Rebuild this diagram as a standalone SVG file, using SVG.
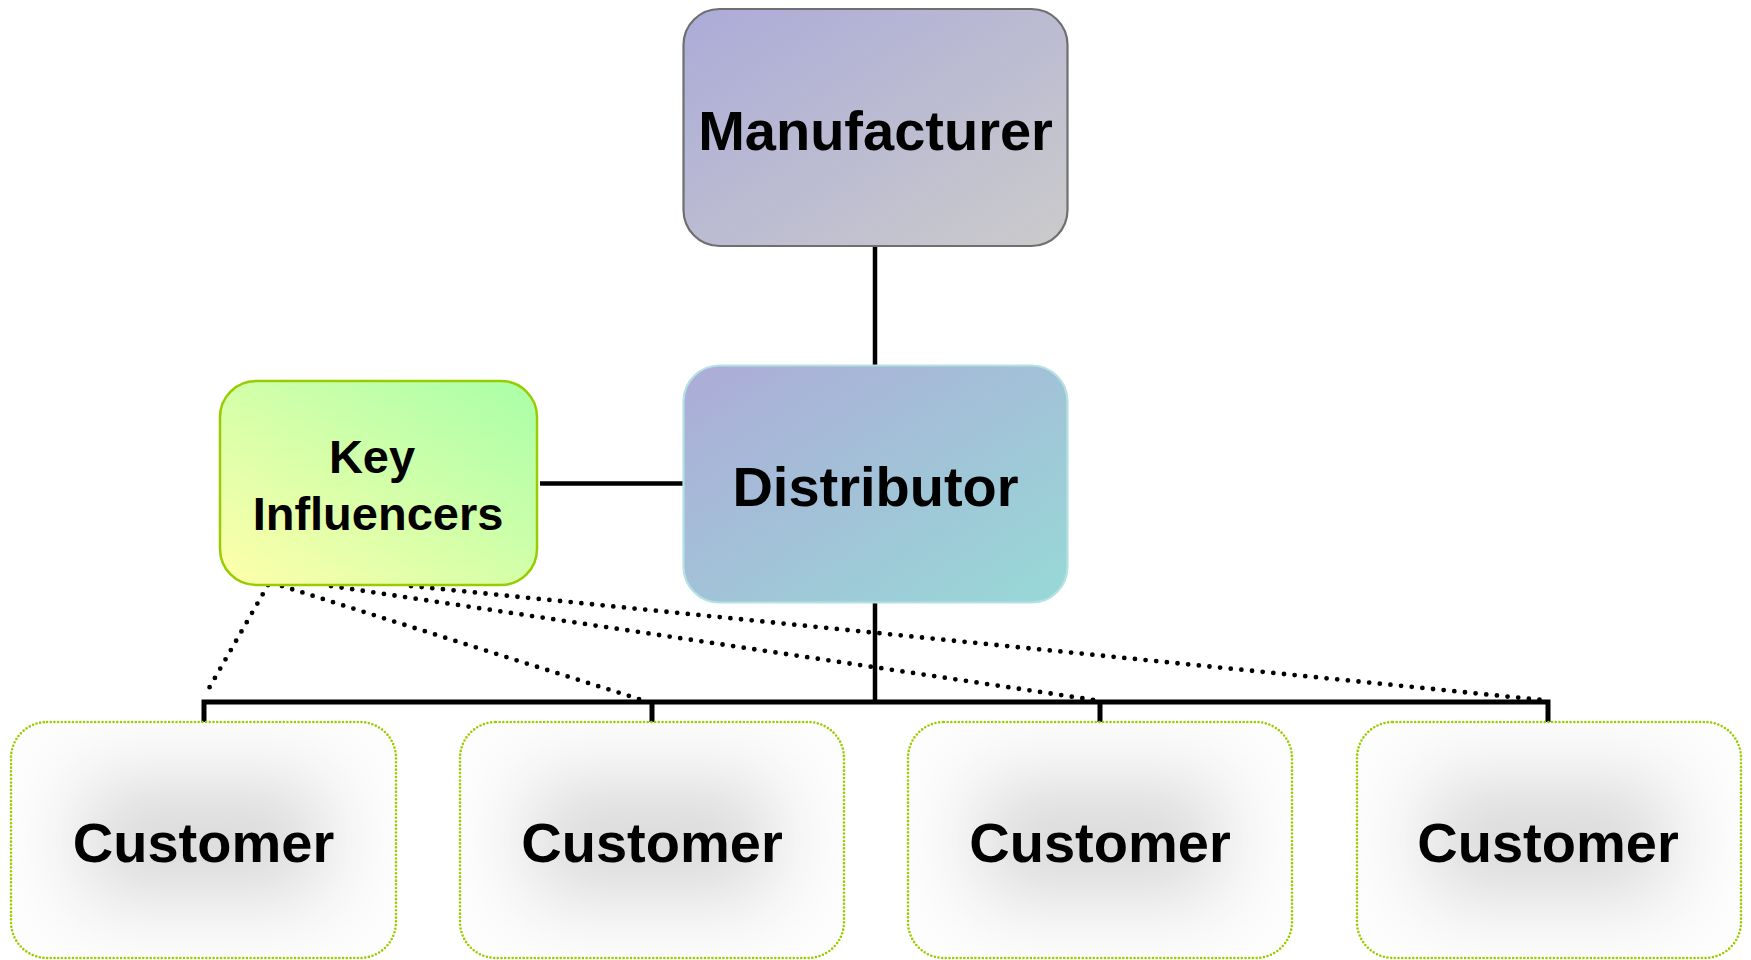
<svg xmlns="http://www.w3.org/2000/svg" width="1751" height="960" viewBox="0 0 1751 960">
<defs>
<linearGradient id="gMan" x1="0" y1="0" x2="1" y2="1">
<stop offset="0" stop-color="#ABABD9"/>
<stop offset="1" stop-color="#CBCBCB"/>
</linearGradient>
<linearGradient id="gDis" x1="0" y1="0" x2="1" y2="1">
<stop offset="0" stop-color="#ADABD8"/>
<stop offset="1" stop-color="#97D9D7"/>
</linearGradient>
<linearGradient id="gKey" x1="0" y1="1" x2="1" y2="0">
<stop offset="0" stop-color="#FFFFAA"/>
<stop offset="1" stop-color="#A8FFA8"/>
</linearGradient>
<filter id="blur" x="-80%" y="-120%" width="260%" height="340%">
<feGaussianBlur stdDeviation="40"/>
</filter>
<clipPath id="c1"><rect x="11" y="722" width="385" height="236" rx="36"/></clipPath>
<clipPath id="c2"><rect x="460" y="722" width="384" height="236" rx="36"/></clipPath>
<clipPath id="c3"><rect x="908" y="722" width="384" height="236" rx="36"/></clipPath>
<clipPath id="c4"><rect x="1357" y="722" width="384" height="236" rx="36"/></clipPath>
</defs>
<style>
.lbl{font-family:"Liberation Sans",Arial,sans-serif;font-weight:bold;fill:#000;text-anchor:middle}
.big{font-size:56px}
.mid{font-size:47px}
.solid{stroke:#000;fill:none}
.dot{stroke:#000;fill:none;stroke-width:4.8;stroke-linecap:round;stroke-dasharray:0 10.7}
.cbox{fill:#FDFDFD;stroke:none}
.cborder{fill:none;stroke:#9ACD00;stroke-width:2.6;stroke-linecap:round;stroke-dasharray:0 3.7}
.glow{fill:#D9D9D9;filter:url(#blur)}
</style>
<rect width="1751" height="960" fill="#FFFFFF"/>
<g id="connectors">
<line class="solid" x1="875" y1="246" x2="875" y2="366" stroke-width="4.5"/>
<line class="solid" x1="540" y1="483.5" x2="684" y2="483.5" stroke-width="4.5"/>
<line class="solid" x1="875" y1="603" x2="875" y2="702" stroke-width="4.5"/>
<path class="solid" d="M204 722 V702 H1548 V722 M652 702 V722 M1100 702 V722" stroke-width="5"/>
<line class="dot" x1="268" y1="585" x2="208" y2="690"/>
<line class="dot" x1="282" y1="586" x2="642" y2="700"/>
<line class="dot" x1="331" y1="586" x2="1094" y2="700"/>
<line class="dot" x1="411" y1="586" x2="1542" y2="700"/>
</g>
<g id="manufacturer">
<rect x="683.5" y="9" width="384" height="237" rx="36" fill="url(#gMan)" stroke="#6F6F6F" stroke-width="2.2"/>
<text class="lbl big" x="875.5" y="150">Manufacturer</text>
</g>
<g id="distributor">
<rect x="683.5" y="365.5" width="384" height="237" rx="36" fill="url(#gDis)" stroke="#B5E1E2" stroke-width="2.2"/>
<text class="lbl big" x="875.5" y="506">Distributor</text>
</g>
<g id="key-influencers">
<rect x="220" y="381" width="317" height="204" rx="36" fill="url(#gKey)" stroke="#99CC00" stroke-width="2.5"/>
<text class="lbl mid" x="372" y="473">Key</text>
<text class="lbl mid" x="378" y="530">Influencers</text>
</g>
<g id="customer-1">
<rect class="cbox" x="11" y="722" width="385" height="236" rx="36"/>
<rect class="glow" x="84" y="782" width="240" height="116" clip-path="url(#c1)"/>
<rect class="cborder" x="11" y="722" width="385" height="236" rx="36"/>
<text class="lbl big" x="203.5" y="862">Customer</text>
</g>
<g id="customer-2">
<rect class="cbox" x="460" y="722" width="384" height="236" rx="36"/>
<rect class="glow" x="532" y="782" width="240" height="116" clip-path="url(#c2)"/>
<rect class="cborder" x="460" y="722" width="384" height="236" rx="36"/>
<text class="lbl big" x="652" y="862">Customer</text>
</g>
<g id="customer-3">
<rect class="cbox" x="908" y="722" width="384" height="236" rx="36"/>
<rect class="glow" x="980" y="782" width="240" height="116" clip-path="url(#c3)"/>
<rect class="cborder" x="908" y="722" width="384" height="236" rx="36"/>
<text class="lbl big" x="1100" y="862">Customer</text>
</g>
<g id="customer-4">
<rect class="cbox" x="1357" y="722" width="384" height="236" rx="36"/>
<rect class="glow" x="1428" y="782" width="240" height="116" clip-path="url(#c4)"/>
<rect class="cborder" x="1357" y="722" width="384" height="236" rx="36"/>
<text class="lbl big" x="1548" y="862">Customer</text>
</g>
</svg>
